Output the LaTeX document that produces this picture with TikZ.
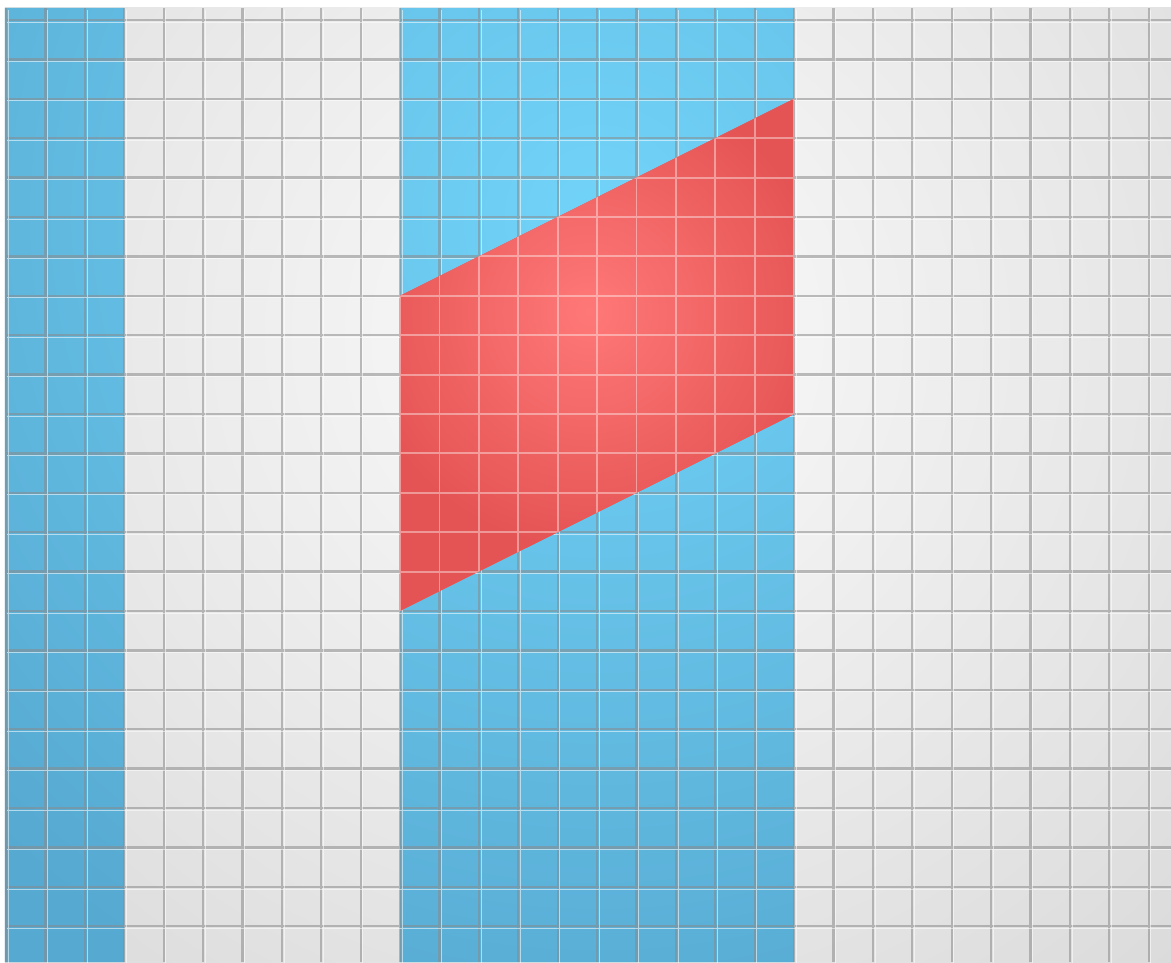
\documentclass[tikz,border=0pt]{standalone}
\usetikzlibrary{calc}

\begin{document}
\begin{tikzpicture}[scale=1, transform shape]
    \definecolor{groutColour}{HTML}{8A8A8A}
    \definecolor{wallInner}{HTML}{FBFBFB}
    \definecolor{wallOuter}{HTML}{D6D6D6}
    \definecolor{blueInner}{HTML}{72D3F8}
    \definecolor{blueOuter}{HTML}{56A9D1}
    \definecolor{redInner}{HTML}{FF7878}
    \definecolor{redOuter}{HTML}{E55454}

    \def\xMin{-1.03}
    \def\xMax{28.566}
    \def\yMin{-23.909}
    \def\yMax{0.305}

    % Page size and margins
    \useasboundingbox (-1.155,\yMin) rectangle (\xMax,0.508);
    \fill[white] (-1.155,\yMin) rectangle (\xMax,0.508);

    % Wall of white tiles
    \begin{scope}
        \clip (\xMin,\yMin) rectangle (\xMax,\yMax);
        \shade[inner color=wallInner, outer color=wallOuter] (14-25,-8-25) rectangle (14+25,-8+25);
    \end{scope}

    % Blue stripes
    \begin{scope}
        \clip (\xMin,\yMin) rectangle (2,\yMax) (9,\yMin) rectangle (19,\yMax);
        \shade[inner color=blueInner, outer color=blueOuter] (14-22,-5-22) rectangle (14+22,-5+22);
    \end{scope}

    % Grout lines and their highlights
    \draw[step=1cm, groutColour, line width=1.7pt, opacity=0.55] (\xMin,\yMin) grid (\xMax,\yMax);
    \draw[shift={(0.055,-0.055)}, step=1cm, white, line width=0.7pt, opacity=0.55] (\xMin,\yMin) grid (\xMax-0.06,\yMax);

    % Vertices of the red parallelogram
    \coordinate (A) at (9,-15);
    \coordinate (B) at (19,-10);
    \coordinate (C) at (19,-2);
    \coordinate (D) at (9,-7);

    % Red parallelogram with light grout
    \begin{scope}
        \clip (A) -- (B) -- (C) -- (D) -- cycle;
        \fill[redOuter] (A) -- (B) -- (C) -- (D) -- cycle;
        \shade[inner color=redInner, outer color=redOuter] (13.8-6,-7.4-6) rectangle (13.8+6,-7.4+6);
        \draw[step=1cm, white, line width=1.4pt, opacity=0.4] (8,-16) grid (20,-1);
    \end{scope}

\end{tikzpicture}
\end{document}
